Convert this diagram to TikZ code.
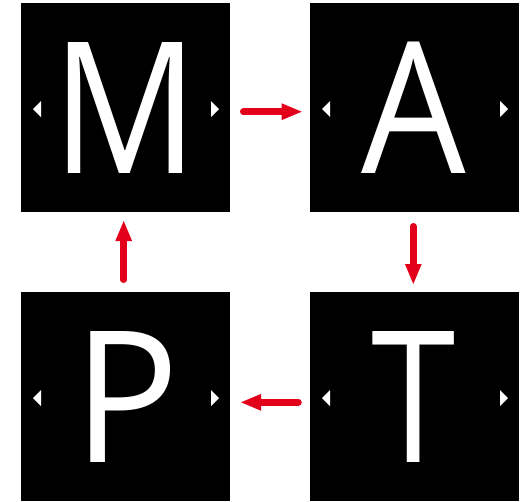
\documentclass[tikz,border=0pt]{standalone}
\usepackage{fontspec}
\usepackage{graphicx}
\setmainfont{Open Sans}
\usetikzlibrary{arrows.meta}
\definecolor{arrred}{RGB}{226,0,26}
\tikzset{
  panel/.style={draw=none, fill=black, minimum width=209pt, minimum height=209pt, inner sep=0pt, outer sep=0pt},
  letter/.style={text=white, inner sep=0pt, outer sep=0pt, anchor=base, font=\fontsize{183.5}{183.5}\selectfont},
  flow/.style={draw=arrred, line width=6.5pt, line cap=round, -{Triangle[length=21pt,width=15pt]}},
  tri/.style={fill=white, draw=none}
}
\begin{document}
\begin{tikzpicture}[x=1pt, y=-1pt]
\useasboundingbox (0,0) rectangle (522,501);
\node[panel] (M) at (125.5,107.5) {};
\node[panel] (A) at (414.5,107.5) {};
\node[panel] (P) at (125.5,396.5) {};
\node[panel] (T) at (414.5,396.5) {};
\node[letter] (mM) at (125.5,173) {\scalebox{0.88}[1]{M}};
\node[letter] (mA) at (414,173.5) {\scalebox{0.9}[1]{A}};
\node[letter] (mP) at (126.5,462.5) {\scalebox{0.96}[1]{P}};
\node[letter] (mT) at (414,462) {\scalebox{0.83}[1]{T}};
% small side triangles
\foreach \b in {M,A,P,T}{
  \path[tri] ([xshift=12pt,yshift=-1.5pt]\b.west) -- ++(8,-8) -- ++(0,16) -- cycle;
  \path[tri] ([xshift=-11pt,yshift=-1.5pt]\b.east) -- ++(-8,-8) -- ++(0,16) -- cycle;
}
\draw[flow, shorten <=13.25pt, shorten >=7.3pt] ([yshift=-4.2pt]M.east) -- ([yshift=-4.2pt]A.west);
\draw[flow, shorten <=14.25pt, shorten >=7pt] ([xshift=-1.2pt]A.south) -- ([xshift=-1.2pt]T.north);
\draw[flow, shorten <=11.5pt, shorten >=10pt] ([yshift=-5.8pt]T.west) -- ([yshift=-5.8pt]P.east);
\draw[flow, shorten <=12.25pt, shorten >=8pt] ([xshift=-1.8pt]P.north) -- ([xshift=-1.8pt]M.south);
\end{tikzpicture}
\end{document}
